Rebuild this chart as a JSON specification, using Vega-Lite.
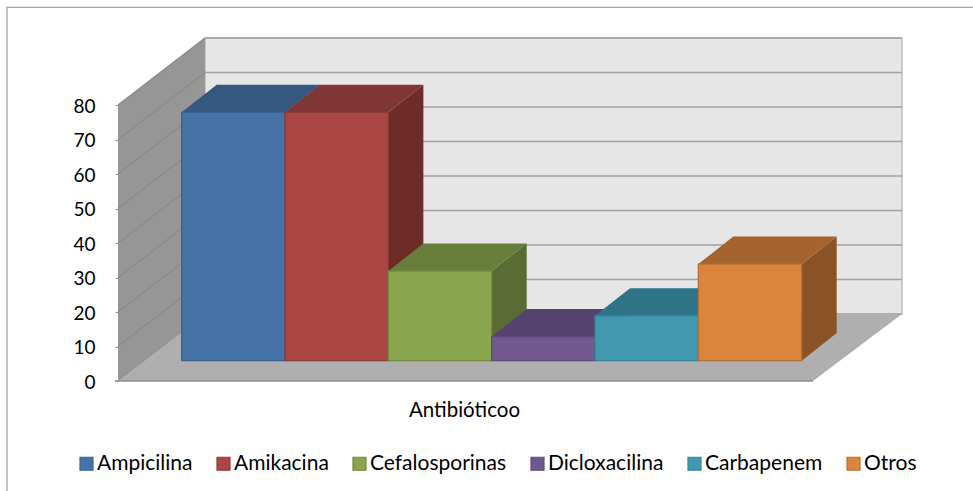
{"$schema":"https://vega.github.io/schema/vega-lite/v6.json","width":784,"height":276,"autosize":"none","padding":{"left":118,"top":105,"right":71,"bottom":110},"background":"white","config":{"view":{"stroke":null},"font":"Lato"},"datasets":{"bars":[{"name":"Ampicilina","value":72},{"name":"Amikacina","value":72},{"name":"Cefalosporinas","value":26},{"name":"Dicloxacilina","value":7},{"name":"Carbapenem","value":13},{"name":"Otros","value":28}],"ticks":[{"tick":0},{"tick":10},{"tick":20},{"tick":30},{"tick":40},{"tick":50},{"tick":60},{"tick":70},{"tick":80}],"one":[{"k":0}]},"encoding":{"x":{"type":"quantitative","scale":{"domain":[0,784],"nice":false,"zero":false},"axis":{"title":"Antibióticoo","titleFontSize":20.5,"titleFontWeight":"normal","titleColor":"#000000","titleFont":"Lato","titleX":346,"titleY":19,"titleAnchor":"middle","domain":false,"ticks":false,"labels":false,"grid":false}},"y":{"type":"quantitative","scale":{"domain":[0,80],"nice":false,"zero":false},"axis":{"title":null,"values":[0,10,20,30,40,50,60,70,80],"domain":false,"grid":false,"tickSize":3,"tickColor":"#8c8c8c","labelFontSize":19,"labelColor":"#000000","labelFont":"Lato","labelPadding":20,"labelOffset":1}}},"resolve":{"scale":{"fill":"independent","stroke":"independent"}},"layer":[{"data":{"name":"one"},"mark":{"type":"rect","fill":"transparent","stroke":"#a3a3a3","strokeWidth":1.3},"encoding":{"x":{"datum":-111},"x2":{"datum":900},"y":{"datum":108.3},"y2":{"datum":-40}}},{"data":{"name":"one"},"mark":{"type":"rect","fill":"#e6e6e6","stroke":"#b8b8b8","strokeWidth":1.3},"encoding":{"x":{"datum":87},"x2":{"datum":784},"y":{"datum":19.4},"y2":{"datum":99.4}}},{"data":{"name":"ticks"},"transform":[{"calculate":"datum.tick+19.4","as":"back"}],"mark":{"type":"rule","color":"#a0a0a0","strokeWidth":1.5},"encoding":{"x":{"datum":87},"x2":{"datum":784},"y":{"field":"back"}}},{"data":{"name":"one"},"transform":[{"calculate":"[0,1]","as":"d"},{"flatten":["d"]},{"calculate":"datum.d*87","as":"px"},{"calculate":"datum.d*19.4","as":"lo"},{"calculate":"datum.lo+80","as":"hi"}],"mark":{"type":"area","orient":"vertical","color":"#969696"},"encoding":{"x":{"field":"px"},"y":{"field":"lo"},"y2":{"field":"hi"}}},{"data":{"name":"ticks"},"transform":[{"calculate":"datum.tick+19.4","as":"back"}],"mark":{"type":"rule","color":"#8a8a8a","strokeWidth":1.2},"encoding":{"x":{"datum":0},"x2":{"datum":87},"y":{"field":"tick"},"y2":{"field":"back"}}},{"data":{"name":"one"},"transform":[{"calculate":"[0,1,2,3]","as":"p"},{"flatten":["p"]},{"calculate":"[0,87,695,784][datum.p]","as":"px"},{"calculate":"[0,0,0,19.4][datum.p]","as":"lo"},{"calculate":"[0,19.4,19.4,19.4][datum.p]","as":"hi"}],"mark":{"type":"area","orient":"vertical","color":"#afafaf"},"encoding":{"x":{"field":"px"},"y":{"field":"lo"},"y2":{"field":"hi"}}},{"data":{"name":"one"},"mark":{"type":"rule","color":"#8f8f8f","strokeWidth":1.5},"encoding":{"x":{"datum":-3},"x2":{"datum":695},"y":{"datum":0}}},{"data":{"name":"bars"},"transform":[{"calculate":"indexof(['Ampicilina','Amikacina','Cefalosporinas','Dicloxacilina','Carbapenem','Otros'],datum.name)","as":"idx"},{"calculate":"[0,1]","as":"d"},{"flatten":["d"]},{"calculate":"63.7+103.33*(datum.idx+1)+35*datum.d","as":"px"},{"calculate":"5.88+8*datum.d","as":"lo"},{"calculate":"datum.lo+datum.value","as":"hi"}],"mark":{"type":"area","orient":"vertical"},"encoding":{"x":{"field":"px"},"y":{"field":"lo"},"y2":{"field":"hi"},"fill":{"field":"name","sort":null,"legend":null,"scale":{"domain":["Ampicilina","Amikacina","Cefalosporinas","Dicloxacilina","Carbapenem","Otros"],"range":["#2f4a6e","#6e2c29","#5a6b33","#49375f","#2a6273","#8a5326"]}}}},{"data":{"name":"bars"},"transform":[{"calculate":"indexof(['Ampicilina','Amikacina','Cefalosporinas','Dicloxacilina','Carbapenem','Otros'],datum.name)","as":"idx"},{"calculate":"[0,1,2,3]","as":"p"},{"flatten":["p"]},{"calculate":"63.7+103.33*datum.idx+[0,35,103.33,138.33][datum.p]","as":"px"},{"calculate":"5.88+datum.value+[0,0,0,8][datum.p]","as":"lo"},{"calculate":"5.88+datum.value+[0,8,8,8][datum.p]","as":"hi"}],"mark":{"type":"area","orient":"vertical"},"encoding":{"x":{"field":"px"},"y":{"field":"lo"},"y2":{"field":"hi"},"fill":{"field":"name","sort":null,"legend":null,"scale":{"domain":["Ampicilina","Amikacina","Cefalosporinas","Dicloxacilina","Carbapenem","Otros"],"range":["#355780","#803634","#687e3c","#56426e","#2f7386","#a5632d"]}}}},{"data":{"name":"bars"},"transform":[{"calculate":"indexof(['Ampicilina','Amikacina','Cefalosporinas','Dicloxacilina','Carbapenem','Otros'],datum.name)","as":"idx"},{"calculate":"63.7+103.33*datum.idx","as":"x0"},{"calculate":"datum.x0+103.33","as":"x1"},{"calculate":"5.88+datum.value","as":"top"},{"calculate":"5.88","as":"base"}],"mark":{"type":"rect","strokeWidth":1.3},"encoding":{"x":{"field":"x0"},"x2":{"field":"x1"},"y":{"field":"top"},"y2":{"field":"base"},"fill":{"field":"name","sort":null,"scale":{"domain":["Ampicilina","Amikacina","Cefalosporinas","Dicloxacilina","Carbapenem","Otros"],"range":["#4572a7","#aa4643","#89a54e","#71588f","#4198af","#db843d"]},"legend":{"title":null,"orient":"none","legendX":-42,"legendY":348,"direction":"horizontal","columns":6,"gridAlign":"each","symbolType":"square","symbolSize":169,"symbolStrokeWidth":1.2,"labelFontSize":21,"labelColor":"#000000","labelFont":"Lato","labelOffset":0,"columnPadding":20,"values":["Ampicilina","Amikacina","Cefalosporinas","Dicloxacilina","Carbapenem","Otros"]}},"stroke":{"field":"name","sort":null,"scale":{"domain":["Ampicilina","Amikacina","Cefalosporinas","Dicloxacilina","Carbapenem","Otros"],"range":["#3a6291","#8f3b38","#72893f","#5f4a79","#35849a","#b56f33"]},"legend":{"title":null,"orient":"none","legendX":-42,"legendY":348,"direction":"horizontal","columns":6,"gridAlign":"each","symbolType":"square","symbolSize":169,"symbolStrokeWidth":1.2,"labelFontSize":21,"labelColor":"#000000","labelFont":"Lato","labelOffset":0,"columnPadding":20,"values":["Ampicilina","Amikacina","Cefalosporinas","Dicloxacilina","Carbapenem","Otros"]}}}}]}
